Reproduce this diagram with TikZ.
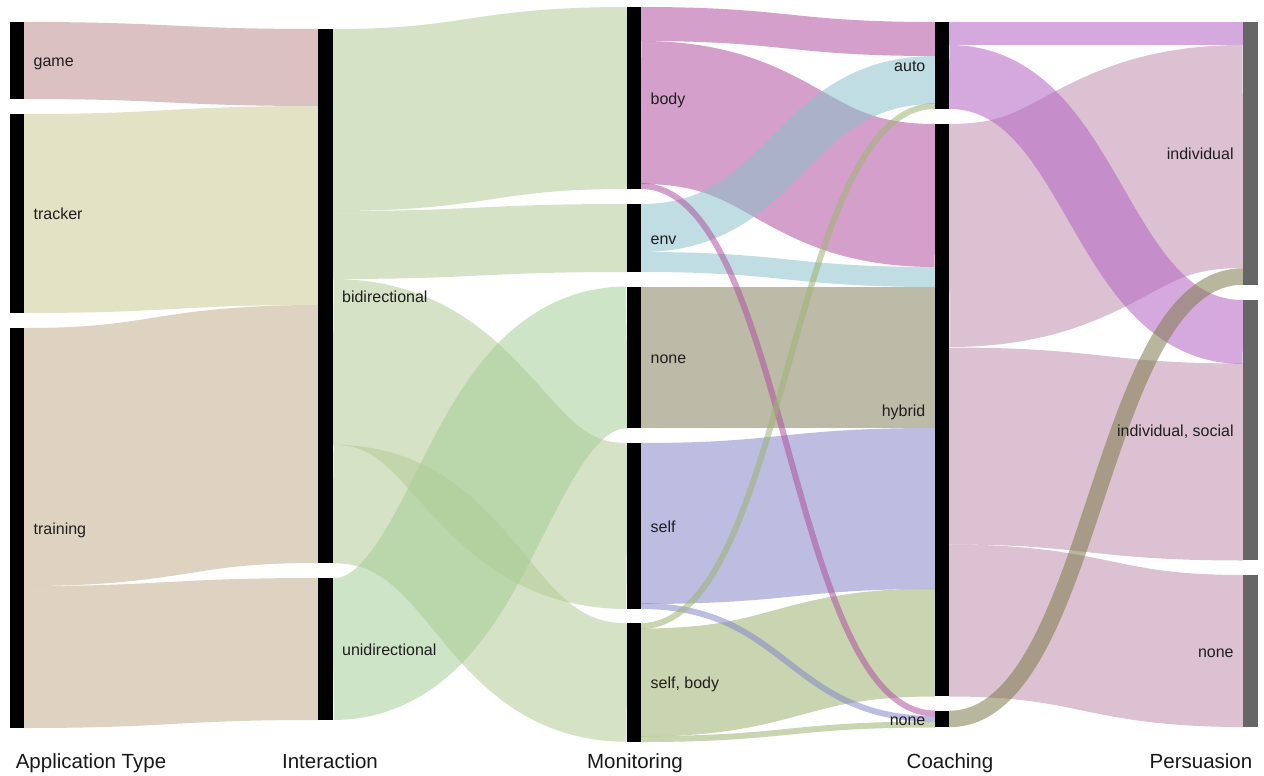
\documentclass[tikz,border=0pt]{standalone}
\usepackage{fontspec}
\setmainfont{Liberation Sans}

\definecolor{gamec}{RGB}{191,142,144}
\definecolor{trackc}{RGB}{202,204,148}
\definecolor{trainc}{RGB}{195,175,142}
\definecolor{bidc}{RGB}{180,202,150}
\definecolor{unic}{RGB}{164,206,151}
\definecolor{bodyc}{RGB}{177,80,158}
\definecolor{envc}{RGB}{140,193,204}
\definecolor{monnonec}{RGB}{133,131,97}
\definecolor{selfc}{RGB}{133,135,199}
\definecolor{selfbodyc}{RGB}{157,179,113}
\definecolor{autoc}{RGB}{179,99,195}
\definecolor{hybridc}{RGB}{190,142,171}
\definecolor{coachnonec}{RGB}{126,124,77}
\definecolor{persc}{RGB}{102,102,102}

% x1, y1, x2, y2, width, colour
\newcommand{\band}[6]{%
  \draw[#6, line width=#5pt, draw opacity=0.55]
    (#1,#2) .. controls ({(#1+#3)/2},#2) and ({(#1+#3)/2},#4) .. (#3,#4);
}

\tikzset{
  bar/.style={fill=black, inner sep=0pt, minimum width=14.5pt},
  lab/.style={text=black!88, font=\fontsize{16}{18}\selectfont, inner sep=0pt},
  axis/.style={text=black!90, font=\fontsize{20.5}{24}\selectfont, inner sep=0pt, anchor=base}
}

\begin{document}
\begin{tikzpicture}[x=1pt, y=-1pt]
  \useasboundingbox (0,0) rectangle (1264,776);

  % application type -> interaction
  \band{24}{60.5}{318}{67.5}{77}{gamec}
  \band{24}{213.5}{318}{205.5}{199}{trackc}
  \band{24}{457}{318}{434}{258}{trainc}
  \band{24}{657}{318}{649}{142}{trainc}

  % interaction -> monitoring
  \band{333}{120}{627}{98}{182}{bidc}
  \band{333}{245}{627}{238}{68}{bidc}
  \band{333}{362}{627}{526}{166}{bidc}
  \band{333}{504}{627}{682.5}{118.5}{bidc}
  \band{333}{649}{627}{357.5}{142}{unic}

  % monitoring -> coaching
  \band{641}{24}{935}{39}{34}{bodyc}
  \band{641}{112.5}{935}{195.5}{143}{bodyc}
  \band{641}{228}{935}{80}{48}{envc}
  \band{641}{262}{935}{277}{20}{envc}
  \band{641}{357.5}{935}{357.5}{141}{monnonec}
  \band{641}{523.5}{935}{508.5}{161}{selfc}
  \band{641}{682.5}{935}{642.5}{108}{selfbodyc}
  \band{641}{186}{935}{713.5}{6}{bodyc}
  \band{641}{606}{935}{719}{6}{selfc}
  \band{641}{626}{935}{106}{6}{selfbodyc}
  \band{641}{739}{935}{724.5}{6}{selfbodyc}

  % coaching -> persuasion
  \band{949}{235.5}{1243}{156.5}{223}{hybridc}
  \band{949}{446}{1243}{462}{197}{hybridc}
  \band{949}{620.5}{1243}{651}{152}{hybridc}
  \band{949}{33.5}{1243}{33.5}{23}{autoc}
  \band{949}{77}{1243}{332}{64}{autoc}
  \band{949}{719}{1243}{276.5}{16.5}{coachnonec}

  % nodes
  \node[bar, minimum height=77pt] (game) at (17,60.5) {};
  \node[bar, minimum height=199pt] (tracker) at (17,213.5) {};
  \node[bar, minimum height=400pt] (training) at (17,528) {};

  \node[bar, minimum height=534pt] (bidir) at (325.5,296) {};
  \node[bar, minimum height=142pt] (unidir) at (325.5,649) {};

  \node[bar, minimum height=182pt] (body) at (634,98) {};
  \node[bar, minimum height=68pt] (env) at (634,238) {};
  \node[bar, minimum height=141pt] (monnone) at (634,357.5) {};
  \node[bar, minimum height=166pt] (self) at (634,526) {};
  \node[bar, minimum height=119pt] (selfbody) at (634,682.5) {};

  \node[bar, minimum height=87pt] (auto) at (942,65.5) {};
  \node[bar, minimum height=572pt] (hybrid) at (942,410) {};
  \node[bar, minimum height=16pt] (coachnone) at (942,719) {};

  \node[bar, fill=persc, minimum width=15pt, minimum height=263pt] (indiv) at (1250.5,153.5) {};
  \node[bar, fill=persc, minimum width=15pt, minimum height=260pt] (indsocial) at (1250.5,430) {};
  \node[bar, fill=persc, minimum width=15pt, minimum height=152pt] (persnone) at (1250.5,651) {};

  % labels
  \node[lab, anchor=base west] (gamel) at ([xshift=9pt, yshift=-6pt]game.east) {game};
  \node[lab, anchor=base west] (trackerl) at ([xshift=9pt, yshift=-6pt]tracker.east) {tracker};
  \node[lab, anchor=base west] (trainingl) at ([xshift=9pt, yshift=-6pt]training.east) {training};
  \node[lab, anchor=base west] (bidirl) at ([xshift=9pt, yshift=-6pt]bidir.east) {bidirectional};
  \node[lab, anchor=base west] (unidirl) at ([xshift=9pt, yshift=-6pt]unidir.east) {unidirectional};
  \node[lab, anchor=base west] (bodyl) at ([xshift=9pt, yshift=-6pt]body.east) {body};
  \node[lab, anchor=base west] (envl) at ([xshift=9pt, yshift=-6pt]env.east) {env};
  \node[lab, anchor=base west] (monnonel) at ([xshift=9pt, yshift=-6pt]monnone.east) {none};
  \node[lab, anchor=base west] (selfl) at ([xshift=9pt, yshift=-6pt]self.east) {self};
  \node[lab, anchor=base west] (selfbodyl) at ([xshift=9pt, yshift=-6pt]selfbody.east) {self, body};
  \node[lab, anchor=base east] (autol) at ([xshift=-9pt, yshift=-6pt]auto.west) {auto};
  \node[lab, anchor=base east] (hybridl) at ([xshift=-9pt, yshift=-6pt]hybrid.west) {hybrid};
  \node[lab, anchor=base east] (coachnonel) at ([xshift=-9pt, yshift=-6pt]coachnone.west) {none};
  \node[lab, anchor=base east] (indivl) at ([xshift=-9pt, yshift=-6pt]indiv.west) {individual};
  \node[lab, anchor=base east] (indsociall) at ([xshift=-9pt, yshift=-6pt]indsocial.west) {individual, social};
  \node[lab, anchor=base east] (persnonel) at ([xshift=-9pt, yshift=-6pt]persnone.west) {none};

  % column titles
  \node[axis] (apptype) at (91,768) {Application Type};
  \node[axis] (interaction) at (330,768) {Interaction};
  \node[axis] (monitoring) at (635,768) {Monitoring};
  \node[axis] (coaching) at (950,768) {Coaching};
  \node[axis] (persuasion) at (1201,768) {Persuasion};
\end{tikzpicture}
\end{document}
